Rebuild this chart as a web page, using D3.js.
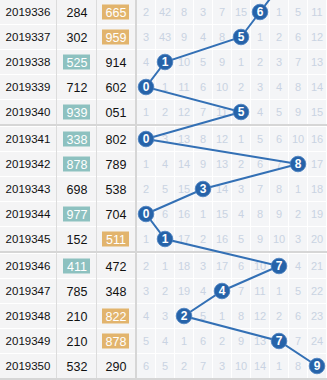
<!DOCTYPE html>
<html><head><meta charset="utf-8">
<script src="https://cdn.jsdelivr.net/npm/d3@7/dist/d3.min.js"></script>
<style>
html,body{margin:0;padding:0;background:#fff;}
svg{display:block;}
</style></head>
<body>
<svg id="chart" width="327" height="380"></svg>
<script>
const issues = ["2019336","2019337","2019338","2019339","2019340","2019341","2019342","2019343","2019344","2019345","2019346","2019347","2019348","2019349","2019350"];
const numsA = ["284","302","525","712","939","338","878","698","977","152","411","785","210","210","532"];
const numsB = ["665","959","914","602","051","802","789","538","704","511","472","348","822","878","290"];
const hiA = [0,0,1,0,1,1,1,0,1,0,1,0,0,0,0];
const hiB = [1,1,0,0,0,0,0,0,0,1,0,0,1,1,0];
const digits = [0,1,2,3,4,5,6,7,8,9];
const winning = [6,5,1,0,5,0,8,3,0,1,7,4,2,7,9];
const prevWinning = 7;
const missing = [
 [2,42,8,3,7,15,0,1,5,11],
 [3,43,9,4,8,0,1,2,6,12],
 [4,0,10,5,9,1,2,3,7,13],
 [0,1,11,6,10,2,3,4,8,14],
 [1,2,12,7,11,0,4,5,9,15],
 [0,3,13,8,12,1,5,6,10,16],
 [1,4,14,9,13,2,6,7,0,17],
 [2,5,15,0,14,3,7,8,1,18],
 [0,6,16,1,15,4,8,9,2,19],
 [1,0,17,2,16,5,9,10,3,20],
 [2,1,18,3,17,6,10,0,4,21],
 [3,2,19,4,0,7,11,1,5,22],
 [4,3,0,5,1,8,12,2,6,23],
 [5,4,1,6,2,9,13,0,7,24],
 [6,5,2,7,3,10,14,1,8,0]
];

const svg = d3.select("#chart");
const rowH = 25, gap = 2, gridLeft = 137, W = 327;
const n = issues.length;
const rowScale = d3.scaleLinear().domain([0, n]).range([0, n * rowH]);
const yTop = i => rowScale(i) + Math.floor(i / 5) * gap;
const yMid = i => yTop(i) + 12;
const x = d3.scaleBand().domain(digits).range([gridLeft, W]).paddingInner(0).paddingOuter(0);
const xMid = d => x(d) + x.bandwidth() / 2 - 0.5;
const cols = [{x0:0,x1:57},{x0:57,x1:97},{x0:97,x1:136}];
const totalH = yTop(n - 1) + rowH;
const font = "'Liberation Sans', Arial, sans-serif";

// background cells
const rows = svg.append("g");
issues.forEach((iss, i) => {
  const g = rows.append("g");
  cols.forEach(c => g.append("rect").attr("x", c.x0).attr("y", yTop(i)).attr("width", c.x1 - c.x0 - 1).attr("height", rowH - 1).attr("fill", "#f4f4f5"));
  digits.forEach(d => g.append("rect").attr("x", x(d)).attr("y", yTop(i)).attr("width", x.bandwidth() - 1).attr("height", rowH - 1).attr("fill", "#f4f5f7"));
});

// separators
[57, 97].forEach(xx => svg.append("rect").attr("x", xx - 1).attr("y", 0).attr("width", 1).attr("height", totalH).attr("fill", "#dcdcdc"));
svg.append("rect").attr("x", 135).attr("y", 0).attr("width", 2).attr("height", totalH).attr("fill", "#d6d6d6");
[5, 10].forEach(i => svg.append("rect").attr("x", 0).attr("y", yTop(i) - 3).attr("width", W).attr("height", 2).attr("fill", "#d6d6d6"));
svg.append("rect").attr("x", 0).attr("y", totalH - 1).attr("width", W).attr("height", 2).attr("fill", "#d6d6d6");

// text columns
issues.forEach((iss, i) => {
  svg.append("text").attr("x", 28).attr("y", yMid(i)).attr("dy", "0.36em").attr("text-anchor", "middle")
    .attr("font-family", font).attr("font-size", 11.5).attr("fill", "#111").text(iss);
  [[numsA, hiA, 77, "#8dc1c0"], [numsB, hiB, 116, "#e2b46d"]].forEach(([arr, hi, cx, col]) => {
    if (hi[i]) {
      svg.append("rect").attr("x", cx - 14).attr("y", yMid(i) - 7.5).attr("width", 27).attr("height", 15).attr("fill", col);
    }
    svg.append("text").attr("x", cx).attr("y", yMid(i)).attr("dy", "0.37em").attr("text-anchor", "middle")
      .attr("font-family", font).attr("font-size", 12.5).attr("fill", hi[i] ? "#fff" : "#111").text(arr[i]);
  });
});

// missing values
missing.forEach((row, i) => {
  row.forEach((v, d) => {
    if (d === winning[i]) return;
    svg.append("text").attr("x", xMid(d)).attr("y", yMid(i)).attr("dy", "0.36em").attr("text-anchor", "middle")
      .attr("font-family", font).attr("font-size", 11).attr("fill", "#c9d3e2").text(v);
  });
});

// line
const clip = svg.append("clipPath").attr("id", "clip").append("rect").attr("x", gridLeft).attr("y", 0).attr("width", W - gridLeft).attr("height", totalH);
const pts = [[xMid(prevWinning), yMid(0) - rowH]].concat(winning.map((w, i) => [xMid(w), yMid(i)]));
svg.append("path").attr("clip-path", "url(#clip)").attr("d", d3.line()(pts))
  .attr("fill", "none").attr("stroke", "#3370b5").attr("stroke-width", 2);

// balls
winning.forEach((w, i) => {
  svg.append("circle").attr("cx", xMid(w)).attr("cy", yMid(i)).attr("r", 7.8).attr("fill", "#2663a9").attr("stroke", "#4a80c0").attr("stroke-width", 0.8);
  svg.append("text").attr("x", xMid(w)).attr("y", yMid(i)).attr("dy", "0.37em").attr("text-anchor", "middle")
    .attr("font-family", font).attr("font-size", 12).attr("font-weight", "bold").attr("fill", "#fff").text(w);
});
</script>
</body></html>
